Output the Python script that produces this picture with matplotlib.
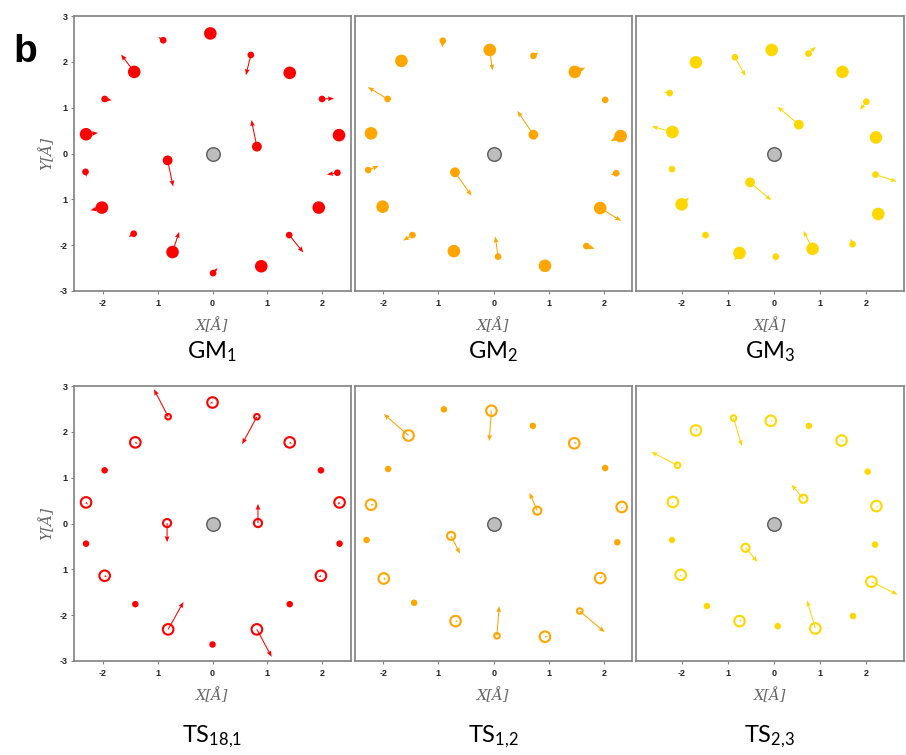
import numpy as np
import matplotlib
matplotlib.use("Agg")
import matplotlib.pyplot as plt

plt.rcParams["mathtext.fontset"] = "custom"
plt.rcParams["mathtext.rm"] = "Lato"
plt.rcParams["mathtext.it"] = "Lato:italic"

# ---------------- atom positions (Å) and displacement vectors ----------------
# GM1
gm1_x = [-0.04, -0.90, 0.70, -1.43, 1.41, -1.97, 2.00, -2.31, 2.31, 0.81,
         -0.82, -2.32, 2.28, -2.02, 1.94, -1.44, 1.40, -0.73, 0.89, 0.01]
gm1_y = [2.62, 2.47, 2.15, 1.78, 1.76, 1.19, 1.19, 0.42, 0.40, 0.15,
         -0.15, -0.40, -0.42, -1.18, -1.18, -1.75, -1.78, -2.15, -2.46, -2.61]
gm1_kind = ["L", "S", "S", "L", "L", "S", "S", "L", "L", "M",
            "M", "S", "S", "L", "L", "S", "S", "L", "L", "S"]
gm1_dx = [0, -0.09, -0.09, -0.24, 0, 0.13, 0.22, 0.22, 0, -0.10,
          0.10, 0.02, -0.19, -0.21, 0, -0.09, 0.26, 0.12, 0, 0.08]
gm1_dy = [0, 0.07, -0.44, 0.38, 0, -0.03, 0.01, 0.03, 0, 0.58,
          -0.57, -0.11, -0.04, -0.06, 0, -0.07, -0.38, 0.44, 0, 0.11]

# GM2
gm2_x = [-0.92, -0.07, 0.72, -1.67, 1.47, -1.92, 2.02, -2.22, 0.72, 2.30,
         -2.27, -0.70, 2.22, -2.01, 1.93, -1.47, 1.68, -0.72, 0.08, 0.93]
gm2_y = [2.46, 2.26, 2.13, 2.02, 1.78, 1.19, 1.17, 0.44, 0.41, 0.38,
         -0.36, -0.41, -0.43, -1.16, -1.19, -1.78, -2.02, -2.13, -2.25, -2.45]
gm2_kind = ["S", "L", "S", "L", "L", "S", "S", "L", "M", "L",
            "S", "M", "S", "L", "L", "S", "S", "L", "S", "L"]
gm2_dx = [-0.01, 0.05, 0.09, 0, 0.19, -0.36, 0, 0, -0.29, -0.18,
          0.19, 0.30, -0.10, 0, 0.38, -0.17, 0.15, 0, -0.05, 0]
gm2_dy = [-0.15, -0.45, 0.07, 0, 0.09, 0.26, 0, 0, 0.52, -0.11,
          0.09, -0.51, -0.04, 0, -0.28, -0.12, -0.06, 0, 0.44, 0]

# GM3
gm3_x = [-0.05, 0.75, -0.85, -1.70, 1.49, -2.27, 2.01, -2.21, 0.54, 2.22,
         -2.22, 2.21, -0.52, -2.01, 2.27, -1.49, 1.71, -0.75, 0.04, 0.84]
gm3_y = [2.26, 2.18, 2.10, 1.99, 1.78, 1.32, 1.13, 0.47, 0.63, 0.35,
         -0.34, -0.46, -0.63, -1.11, -1.32, -1.78, -1.98, -2.17, -2.25, -2.08]
gm3_kind = ["L", "S", "S", "L", "L", "S", "S", "L", "M", "L",
            "S", "S", "M", "L", "L", "S", "S", "L", "S", "L"]
gm3_dx = [0, 0.16, 0.23, 0, 0, -0.12, -0.14, -0.45, -0.46, 0,
          0.07, 0.46, 0.46, 0.16, 0, 0.09, -0.04, -0.12, -0.01, -0.20]
gm3_dy = [0, 0.15, -0.41, 0, 0, 0.01, -0.18, 0.12, 0.39, 0,
          0.03, -0.15, -0.39, 0.15, 0, -0.03, 0.12, -0.16, -0.10, 0.39]

# TS18,1
ts181_x = [0.00, -0.81, 0.81, -1.41, 1.41, -1.97, 1.98, -2.31, 2.32, -0.83,
           0.83, -2.31, 2.32, -1.97, 1.98, -1.41, 1.41, -0.81, 0.81, 0.00]
ts181_y = [2.64, 2.33, 2.33, 1.77, 1.77, 1.16, 1.16, 0.46, 0.46, 0.01,
           0.01, -0.44, -0.44, -1.14, -1.14, -1.76, -1.76, -2.31, -2.31, -2.64]
ts181_kind = ["RL", "RS", "RS", "RL", "RL", "D", "D", "RL", "RL", "RM",
              "RM", "D", "D", "RL", "RL", "D", "D", "RL", "RL", "D"]
ts181_dx = [-0.05, -0.26, -0.27, 0.04, 0.04, 0, 0, 0.03, -0.03, 0,
            0, 0, 0, 0.04, -0.04, 0, 0, 0.28, 0.27, 0]
ts181_dy = [-0.02, 0.60, -0.60, -0.03, -0.03, 0, 0, -0.05, -0.05, -0.42,
            0.42, 0, 0, -0.03, -0.03, 0, 0, 0.60, -0.60, 0]

# TS1,2
ts12_x = [-0.90, -0.04, 0.71, -1.54, 1.46, -1.91, 2.02, -2.22, 2.32, 0.79,
          -0.77, -2.30, 2.24, -1.99, 1.93, -1.44, 1.56, -0.69, 0.06, 0.93]
ts12_y = [2.49, 2.46, 2.13, 1.92, 1.75, 1.19, 1.21, 0.41, 0.36, 0.28,
          -0.27, -0.36, -0.41, -1.20, -1.19, -1.73, -1.91, -2.13, -2.45, -2.47]
ts12_kind = ["D", "RL", "D", "RL", "RL", "D", "D", "RL", "RL", "RM",
             "RM", "D", "D", "RL", "RL", "D", "RS", "RL", "RS", "RL"]
ts12_dx = [0, -0.04, 0, -0.45, 0.05, 0, 0, 0.05, 0, -0.14,
           0.16, 0, 0, 0.05, 0.04, 0, 0.45, 0.05, 0.04, 0.05]
ts12_dy = [0, -0.66, 0, 0.47, 0.02, 0, 0, 0.0, -0.05, 0.39,
           -0.39, 0, 0, -0.02, 0.04, 0, -0.46, 0.0, 0.65, 0.0]

# TS2,3
ts23_x = [-0.88, -0.07, 0.76, -1.70, 1.47, -2.10, 2.04, -2.20, 0.64, 2.23,
          -2.22, 2.20, -0.62, -2.03, 2.12, -1.46, 1.72, -0.75, 0.08, 0.90]
ts23_y = [2.30, 2.24, 2.13, 2.03, 1.81, 1.27, 1.13, 0.47, 0.54, 0.38,
          -0.36, -0.46, -0.53, -1.12, -1.27, -1.80, -2.02, -2.13, -2.24, -2.29]
ts23_kind = ["RS", "RL", "D", "RL", "RL", "RS", "D", "RL", "RM", "RL",
             "D", "D", "RM", "RL", "RL", "D", "D", "RL", "D", "RL"]
ts23_dx = [0.18, 0.05, 0, 0.04, 0.04, -0.57, 0, 0.0, -0.26, 0.03,
           0, 0, 0.26, 0.0, 0.57, 0, 0, 0.04, 0, -0.18]
ts23_dy = [-0.61, 0.0, 0, 0.04, -0.03, 0.29, 0, -0.05, 0.31, -0.04,
           0, 0, -0.31, -0.05, -0.28, 0, 0, 0.04, 0, 0.61]

titles = [r"GM$_\mathrm{1}$", r"GM$_\mathrm{2}$", r"GM$_\mathrm{3}$",
          r"TS$_\mathrm{18{,}1}$", r"TS$_\mathrm{1{,}2}$", r"TS$_\mathrm{2{,}3}$"]
x_ticks = [-2, -1, 0, 1, 2]
x_ticklabels = ["-2", "1", "0", "1", "2"]
y_ticks = [-3, -2, -1, 0, 1, 2, 3]
y_ticklabels = ["-3", "-2", "1", "0", "1", "2", "3"]

panels = [
    (gm1_x, gm1_y, gm1_kind, gm1_dx, gm1_dy),
    (gm2_x, gm2_y, gm2_kind, gm2_dx, gm2_dy),
    (gm3_x, gm3_y, gm3_kind, gm3_dx, gm3_dy),
    (ts181_x, ts181_y, ts181_kind, ts181_dx, ts181_dy),
    (ts12_x, ts12_y, ts12_kind, ts12_dx, ts12_dy),
    (ts23_x, ts23_y, ts23_kind, ts23_dx, ts23_dy),
]
colors = ["#ff0000", "#ffa500", "#ffd700"]

# marker styles: size (points^2) and whether filled
style = {
    "L": dict(s=82, filled=True),
    "M": dict(s=50, filled=True),
    "S": dict(s=23, filled=True),
    "RL": dict(s=58, filled=False),
    "RM": dict(s=34, filled=False),
    "RS": dict(s=16, filled=False),
    "D": dict(s=22, filled=True),
}

W, H = 906, 755
fig = plt.figure(figsize=(W / 100, H / 100), dpi=100)

col_px = [(74, 350.5), (355, 631.7), (635.7, 904)]
row_px = [(16, 291), (386, 661)]
xlims = [(-2.53, 2.52), (-2.51, 2.50), (-3.01, 2.83)]

frame_c = "#808080"
for idx, (px, py, kind, dx, dy) in enumerate(panels):
    r, c = divmod(idx, 3)
    l, rr = col_px[c]
    t, b = row_px[r]
    ax = fig.add_axes([l / W, 1 - b / H, (rr - l) / W, (b - t) / H])
    color = colors[c]
    px = np.asarray(px); py = np.asarray(py)
    dx = np.asarray(dx, float); dy = np.asarray(dy, float)
    kind = np.asarray(kind)

    # displacement arrows
    m = (dx != 0) | (dy != 0)
    ax.quiver(px[m], py[m], dx[m], dy[m], angles="xy", scale_units="xy", scale=1,
              color=color, width=0.0038, headwidth=4.5, headlength=5.8,
              headaxislength=5.2, zorder=2)

    for k, st in style.items():
        sel = kind == k
        if not sel.any():
            continue
        if st["filled"]:
            ax.scatter(px[sel], py[sel], s=st["s"], c=color, edgecolors="none", zorder=3)
        else:
            ax.scatter(px[sel], py[sel], s=st["s"], facecolors="none",
                       edgecolors=color, linewidths=1.5, zorder=3)

    # central atom
    ax.scatter([0], [0], s=95, c="#bdbdbd", edgecolors="#5a5a5a", linewidths=1.0, zorder=4)

    ax.set_xlim(*xlims[c])
    ax.set_ylim(-3, 3)
    for sp in ax.spines.values():
        sp.set_color(frame_c)
        sp.set_linewidth(1.2)
    ax.set_xticks(x_ticks)
    ax.set_xticklabels(x_ticklabels, fontsize=6.5, fontweight="bold",
                       fontfamily="Liberation Sans", color="#222222")
    ax.tick_params(axis="x", direction="out", length=2.5, width=0.8, color=frame_c, pad=3)
    if c == 0:
        ax.set_yticks(y_ticks)
        ax.set_yticklabels(y_ticklabels, fontsize=6.5, fontweight="bold",
                           fontfamily="Liberation Sans", color="#222222")
        ax.tick_params(axis="y", direction="out", length=2.5, width=0.8, color=frame_c, pad=2)
        ax.text((47 - l) / (rr - l), 0.5, "Y[Å]", transform=ax.transAxes,
                rotation=90, ha="center", va="center", fontsize=11,
                fontfamily="DejaVu Serif", fontstyle="italic", color="#666666")
    else:
        ax.set_yticks([])

    ax.text(0.5, -(34) / (b - t), "X[Å]", transform=ax.transAxes,
            ha="center", va="center", fontsize=10.5,
            fontfamily="DejaVu Serif", fontstyle="italic", color="#666666")
    ty = 352 if r == 0 else 737
    fig.text(((l + rr) / 2) / W, 1 - ty / H, titles[idx], ha="center", va="center",
             fontsize=17, fontfamily="Lato", color="#000000")

fig.text(13 / W, 1 - 62 / H, "b", fontsize=28, fontweight="bold",
         fontfamily="Liberation Sans", ha="left", va="baseline")

fig.savefig("out.png", dpi=100)
